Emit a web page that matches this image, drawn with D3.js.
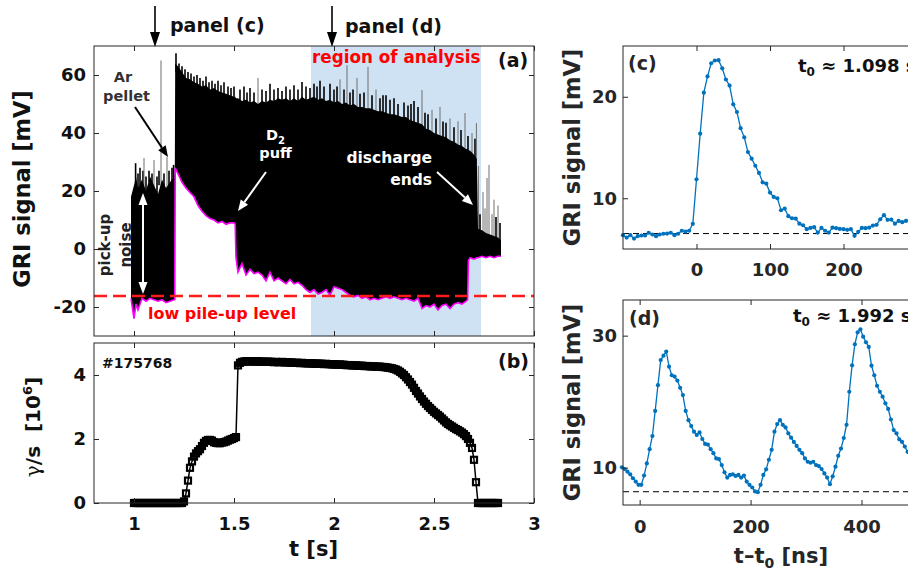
<!DOCTYPE html>
<html>
<head>
<meta charset="utf-8">
<script src="https://cdn.jsdelivr.net/npm/d3@7"></script>
<style>
  body { margin: 0; background: #fff; }
  svg text { font-family: "DejaVu Sans", sans-serif; font-weight: bold; }
</style>
</head>
<body>
<div id="chart"></div>
<script>
// ---- panel (a): GRI signal envelope [mV] vs t [s]
var tA = [0.985,1.0,1.01,1.02,1.04,1.06,1.08,1.10,1.12,1.14,1.16,1.18,1.20,1.204,
  1.206,1.22,1.24,1.26,1.28,1.30,1.32,1.34,1.36,1.38,1.40,1.42,1.44,1.46,1.48,1.50,1.506,
  1.51,1.52,1.54,1.56,1.58,1.60,1.62,1.64,1.66,1.68,1.70,1.72,1.74,1.76,1.78,1.80,1.82,1.84,1.86,1.88,
  1.90,1.92,1.94,1.96,1.98,2.00,2.02,2.04,2.06,2.08,2.10,2.12,2.14,2.16,2.18,2.20,2.22,2.24,2.26,2.28,
  2.30,2.32,2.34,2.36,2.38,2.40,2.42,2.44,2.46,2.48,2.50,2.52,2.54,2.56,2.58,2.60,2.62,2.64,2.66,2.668,
  2.672,2.68,2.70,2.714,2.72,2.74,2.76,2.78,2.80,2.82,2.835];
var upA = [18,22,25,21,24,20,25,22,19,24,21,23,25,26,
  64,63,61,59,58.5,57.5,57,56,56.5,55,55.5,54.5,54,53.5,53,52.5,52.5,
  52,52,51,51.5,50.5,51,50,51,50.5,51.5,51,52,51.5,52,51,52,51,52.5,51.5,52,
  52.5,51.5,52,51,51.5,50.5,51,50,50.5,49.5,50,49,49,48.5,48.5,48,47.5,47.5,47,46.5,
  46.5,46,45.5,45.5,44.5,44,43.5,43,41.5,41,40,39.5,39,38.5,37.5,37,36,35.5,34.5,34.5,
  34,34,32.5,31,7,6.5,5.5,5,4.5,4,3];
var loA = [-17,-24,-19,-21,-17,-18,-17,-17.5,-18,-17.5,-18.5,-18,-17.5,-17.5,
  28,26,23,21,19.5,18,15,13,11.5,10.5,10,9,9.5,8.5,9,9,8.5,
  -3,-8,-5,-9,-7,-8.5,-8,-9,-11,-8,-11,-10,-11,-12,-10.5,-12,-11.5,-12.5,-14,-15,
  -14,-15.5,-15,-14,-16,-13,-13.5,-14,-15,-16,-16.5,-16,-17,-16.5,-17.5,-17,-17.5,-17,-16.5,-17,
  -16.5,-17,-17.5,-17,-17.5,-18,-17,-20.5,-19.5,-20,-19,-21,-19.5,-19,-20.5,-19,-18.5,-19,-18,-17.5,
  -4,-3,-3.5,-3,-3,-2.5,-3,-2.5,-3,-2.5,-2.5];
// spikes sticking out above the envelope (t [s], peak [mV])
var tSpk = [1.008,1.02,1.03,1.045,1.05,1.06,1.075,1.09,1.1,1.115,1.125,1.135,1.15,1.165,1.175,1.19,1.198,
  1.21,1.225,1.24,1.255,1.27,1.285,1.3,1.315,1.33,1.345,1.36,1.375,1.39,1.405,1.42,1.435,1.45,1.47,1.485,1.5,
  1.53,1.55,1.565,1.58,1.6,1.62,1.64,1.66,1.68,1.70,1.72,1.74,1.76,1.78,1.80,1.82,1.84,1.86,1.88,1.90,1.915,1.93,1.95,1.98,
  2.0,2.015,2.03,2.05,2.065,2.08,2.095,2.115,2.13,2.15,2.17,2.19,2.21,2.23,2.245,2.26,2.28,2.3,2.32,2.35,2.37,2.385,2.4,2.42,2.44,
  2.455,2.47,2.49,2.51,2.53,2.545,2.56,2.58,2.6,2.62,2.635,2.655,2.67,2.69,2.705,2.712,
  2.722,2.73,2.745,2.755,2.765,2.775,2.79,2.8,2.81,2.82,2.83];
var vSpk = [29.6,26,28,27,31.4,25,27,26,30.7,25,27,65,26,31.7,27,28,29,
  67.5,64,63,62,61,60.5,59.5,60,59,58,59.5,57.5,58,57,58,56.5,57.5,56,55.5,56,
  55,56,54,55.5,54,59,55,54.5,57,55,55.5,54.5,56,55,56.5,55,57.6,56,55.5,57,56,58,56,57,
  55,56,58.5,55,63.4,54,55,59,53.5,54,62.8,53,55,52,53,53,51.5,52,50,50.5,49.5,50,51,49,54.8,
  47,46.5,48,45,49,44,43.5,45,42,44,41,46.9,39,40,38,43.4,
  28.6,12,19.7,14,24.5,29,12,17,11,15,9];
var lowPileUp = -16.2;
var analysisWin = [1.885, 2.735];

// ---- panel (b): gamma/s [10^6], sampled every 10 ms from t = 1.00 s
var tB0 = 1.0, dtB = 0.01;
var vB = [0,0,0,0,0,0,0,0,0,0,0,0,0,0,0,0,0,0,0,0,0,0,0,0,0,
  0.05,0.3,0.7,1.1,1.3,1.45,1.55,1.62,1.68,1.78,1.88,1.94,1.97,1.97,1.95,
  1.9,1.88,1.87,1.87,1.89,1.9,1.92,1.95,1.98,2.0,2.03,2.06,
  4.3,4.38,4.41,
  4.42,4.43,4.43,4.42,4.43,4.42,4.42,4.43,4.42,4.42,4.41,
  4.41,4.42,4.41,4.41,4.40,4.41,4.40,4.40,4.41,4.40,4.39,4.40,4.39,4.39,4.38,
  4.38,4.38,4.37,4.38,4.37,4.37,4.36,4.37,4.36,4.36,4.35,4.36,4.35,4.35,4.34,4.35,4.34,4.34,4.33,4.33,
  4.33,4.32,4.33,4.32,4.32,4.31,4.31,4.31,4.30,4.30,4.30,4.29,4.29,4.29,4.28,4.28,4.28,4.27,4.27,4.27,
  4.26,4.26,4.26,4.25,4.25,4.24,4.23,4.22,4.21,4.19,
  4.17,4.14,4.1,4.05,4.0,3.93,3.86,3.78,3.7,3.6,3.5,3.42,3.33,3.25,3.17,3.1,3.03,2.97,2.91,2.85,
  2.8,2.75,2.7,2.64,2.58,2.52,2.47,2.43,2.39,2.35,2.31,2.28,2.24,2.2,2.15,2.09,2.0,1.88,1.72,1.35,
  0.65,0,0,0,0,0,0,0,0,0,0,0];

// ---- panel (c): GRI pulse near t0 = 1.098 s, 5 ns sampling from -100 ns
var tC0 = -100, dtC = 5;
var vC = [6.36,6.13,6.36,6.03,6.26,6.33,6.33,6.6,6.43,6.26,
  6.43,6.5,6.52,6.6,6.36,6.5,6.8,6.72,6.8,7.48,
  11.87,16.36,20.4,22.0,23.3,23.57,23.6,22.8,21.7,21.1,
  19.25,18.5,16.9,16.0,14.55,13.9,13.2,12.5,11.57,11.44,
  10.56,10.13,10.0,8.82,8.98,8.23,8.03,8.0,7.5,7.34,
  6.95,7.08,7.15,6.62,7.08,6.8,6.62,7.11,7.05,6.98,
  6.95,6.89,6.95,6.3,6.69,7.08,7.05,7.11,7.31,7.38,
  7.93,8.33,7.87,7.9,7.5,7.77,7.64,7.77,7.84];
var baseC = 6.52;

// ---- panel (d): GRI pulses near t0 = 1.992 s, 5 ns sampling from -32 ns
var tD0 = -32, dtD = 5;
var vD = [10.05,9.8,9.4,9.0,8.4,7.9,7.4,7.4,8.8,10.65,
  12.8,14.8,18.6,22.5,26.3,26.97,27.6,25.3,24.0,23.8,
  23.2,22.1,21.0,18.6,17.2,16.3,15.45,14.95,15.35,14.35,
  13.6,13.5,12.8,12.2,11.4,11.3,10.4,9.3,8.5,8.9,
  9.0,8.74,8.9,8.5,8.8,7.9,7.4,7.0,6.4,6.3,
  7.4,8.9,9.75,11.2,12.7,15.45,16.6,17.2,16.5,16.1,
  15.2,14.55,13.9,13.3,12.7,12.2,11.4,10.9,10.75,10.9,
  10.4,10.25,9.8,9.14,8.5,7.5,8.7,10.15,11.8,12.9,
  14.5,16.5,21.5,25.5,28.7,30.5,30.96,29.85,29.0,28.3,
  25.45,24.0,22.4,21.5,20.75,19.75,18.9,17.3,15.7,15.2,
  14.3,13.9,13.2,12.4];
var baseD = 6.36;

// tick labels
var tTicks = [1, 1.5, 2, 2.5, 3];
var aTicks = [-20, 0, 20, 40, 60];
var bTicks = [0, 2, 4];
var cxTicks = [0, 100, 200], cyTicks = [10, 20];
var dxTicks = [0, 200, 400], dyTicks = [10, 30];

var svg = d3.select('#chart').append('svg')
  .attr('width', 908)
  .attr('height', 574);

var xT = d3.scaleLinear().domain([0.8, 3]).range([94, 534]);
var yA = d3.scaleLinear().domain([-30, 70]).range([336, 46]);
var yB = d3.scaleLinear().domain([0, 5]).range([503, 343]);
var xC = d3.scaleLinear().domain([-100, 300]).range([623, 917]);
var yC = d3.scaleLinear().domain([5, 25]).range([249, 46]);
var xD = d3.scaleLinear().domain([-30, 500]).range([623, 917]);
var yD = d3.scaleLinear().domain([4.35, 35.4]).range([505, 300]);

// boxed axes with inward ticks on all four sides
function frame(xs, ys, o){
  var xr = xs.range(), yr = ys.range();
  var fmt = function(d){ return String(d); };
  var g = svg.append('g');
  g.append('g').attr('transform', 'translate(0,' + yr[0] + ')')
    .call(d3.axisBottom(xs).tickValues(o.xt).tickSize(-5).tickPadding(o.xpad)
      .tickFormat(o.xlab ? fmt : ''));
  g.append('g').attr('transform', 'translate(0,' + yr[1] + ')')
    .call(d3.axisTop(xs).tickValues(o.xt).tickSize(-5).tickFormat(''));
  g.append('g').attr('transform', 'translate(' + xr[0] + ',0)')
    .call(d3.axisLeft(ys).tickValues(o.yt).tickSize(-5).tickPadding(o.ypad).tickFormat(fmt));
  g.append('g').attr('transform', 'translate(' + xr[1] + ',0)')
    .call(d3.axisRight(ys).tickValues(o.yt).tickSize(-5).tickFormat(''));
  g.selectAll('.domain').remove();
  g.selectAll('.tick line').attr('stroke', '#262626');
  g.selectAll('g').attr('font-family', null).attr('font-size', 18);
  g.selectAll('.tick text').attr('fill', o.col).style('font-size', '18px');
  g.append('rect')
    .attr('x', xr[0]).attr('y', yr[1])
    .attr('width', xr[1] - xr[0]).attr('height', yr[0] - yr[1])
    .attr('fill', 'none').attr('stroke', '#262626').attr('stroke-width', 1);
}

function arrow(x1, y1, x2, y2, col, w, hl, hw){
  var a = Math.atan2(y2 - y1, x2 - x1), c = Math.cos(a), s = Math.sin(a);
  var bx = x2 - hl * c, by = y2 - hl * s;
  svg.append('line').attr('x1', x1).attr('y1', y1).attr('x2', bx).attr('y2', by)
    .attr('stroke', col).attr('stroke-width', w);
  svg.append('polygon')
    .attr('points', [[x2, y2], [bx - hw * s, by + hw * c], [bx + hw * s, by - hw * c]].join(' '))
    .attr('fill', col);
}

function label(x, y, str, size, col, anchor){
  return svg.append('text').attr('x', x).attr('y', y).text(str)
    .attr('font-size', size).attr('fill', col || '#111')
    .attr('text-anchor', anchor || 'start');
}

function vlabel(x, y, size, col){
  return svg.append('text').attr('transform', 'translate(' + x + ',' + y + ') rotate(-90)')
    .attr('text-anchor', 'middle').attr('font-size', size).attr('fill', col || '#111');
}

// ===== panel (a)
svg.append('rect')
  .attr('x', xT(analysisWin[0])).attr('y', yA(70))
  .attr('width', xT(analysisWin[1]) - xT(analysisWin[0]))
  .attr('height', yA(-30) - yA(70))
  .attr('fill', '#cfe2f3');

// spikes start inside the black envelope; tall thin ones render grey
var bisT = d3.bisector(function(d){ return d; }).left;
function baseAt(t){ return upA[Math.min(bisT(tA, t), tA.length - 1)]; }
svg.selectAll('line.spk').data(tSpk).enter().append('line')
  .attr('class', 'spk')
  .attr('x1', function(d){ return xT(d); }).attr('x2', function(d){ return xT(d); })
  .attr('y1', function(d){ return yA(baseAt(d) - 2); })
  .attr('y2', function(d, i){ return yA(vSpk[i]); })
  .attr('stroke', function(d, i){ return vSpk[i] - baseAt(d) > 7 ? '#6e6e6e' : '#000'; })
  .attr('stroke-width', function(d, i){ return vSpk[i] - baseAt(d) > 7 ? 1 : 1.6; });

var envA = tA.map(function(t, i){ return {t: t, hi: upA[i], lo: loA[i]}; });
svg.append('path').datum(envA)
  .attr('d', d3.area()
    .x(function(d){ return xT(d.t); })
    .y0(function(d){ return yA(d.lo); })
    .y1(function(d){ return yA(d.hi); }))
  .attr('fill', '#000');

svg.append('path').datum(envA)
  .attr('d', d3.line()
    .x(function(d){ return xT(d.t); })
    .y(function(d){ return yA(d.lo); }))
  .attr('fill', 'none').attr('stroke', '#ff00ff').attr('stroke-width', 1.6);

svg.append('line')
  .attr('x1', xT(0.8)).attr('x2', xT(3))
  .attr('y1', yA(lowPileUp)).attr('y2', yA(lowPileUp))
  .attr('stroke', '#ff1a1a').attr('stroke-width', 2.5).attr('stroke-dasharray', '13,6');

frame(xT, yA, {xt: tTicks, yt: aTicks, xlab: false, xpad: 14, ypad: 8, col: '#111'});

// annotations (a)
label(312, 63, 'region of analysis', 16.8, '#ff0000');
label(498, 67, '(a)', 19);
label(123, 82, 'Ar', 14.5, '#333', 'middle');
label(126.5, 101, 'pellet', 14.5, '#333', 'middle');
arrow(135, 107, 168, 157, '#000', 2, 11, 4.5);

var d2 = label(275.5, 140, 'D', 14.5, '#fff', 'middle');
d2.append('tspan').attr('font-size', 10).attr('dy', 4).text('2');
label(275.5, 158, 'puff', 14.5, '#fff', 'middle');
arrow(266, 172, 238, 211, '#fff', 2, 11, 4.5);

label(432, 163, 'discharge', 15.5, '#fff', 'end');
label(432, 185, 'ends', 15.5, '#fff', 'end');
arrow(437, 172, 473, 205, '#fff', 2, 11, 4.5);

vlabel(110, 245, 15, '#222').text('pick-up');
vlabel(131, 245, 15, '#222').text('noise');
arrow(143, 245, 143, 193, '#fff', 2, 12, 4.5);
arrow(143, 245, 143, 294, '#fff', 2, 12, 4.5);

label(148, 319, 'low pile-up level', 16, '#ff0000');

label(170, 32, 'panel (c)', 19);
label(345, 33, 'panel (d)', 19);
arrow(155, 6, 155, 47, '#000', 1.6, 15, 5);
arrow(332, 6, 332, 47, '#000', 1.6, 15, 5);

vlabel(30, 189, 22.5).text('GRI signal [mV]');

// ===== panel (b)
var ptsB = vB.map(function(v, i){ return {t: tB0 + i * dtB, v: v}; });
svg.append('path').datum(ptsB)
  .attr('d', d3.line()
    .x(function(d){ return xT(d.t); })
    .y(function(d){ return yB(d.v); }))
  .attr('fill', 'none').attr('stroke', '#000').attr('stroke-width', 1.5);
svg.selectAll('rect.mk').data(ptsB).enter().append('rect')
  .attr('class', 'mk')
  .attr('x', function(d){ return xT(d.t) - 3; })
  .attr('y', function(d){ return yB(d.v) - 3; })
  .attr('width', 6).attr('height', 6)
  .attr('fill', 'none').attr('stroke', '#000').attr('stroke-width', 2.2);

frame(xT, yB, {xt: tTicks, yt: bTicks, xlab: true, xpad: 14, ypad: 8, col: '#111'});

label(102, 368, '#175768', 14);
label(498, 368, '(b)', 19);
var gl = vlabel(39.5, 427, 20);
gl.append('tspan').attr('font-family', 'DejaVu Serif').attr('font-weight', 'normal').text('\u03b3');
gl.append('tspan').text('/s\u00a0 [10');
gl.append('tspan').attr('font-size', 13).attr('dy', -8).text('6');
gl.append('tspan').attr('dy', 8).text(']');
label(313.5, 556, 't [s]', 21, '#111', 'middle');

// ===== panel (c)
svg.append('line')
  .attr('x1', xC(-100)).attr('x2', xC(300))
  .attr('y1', yC(baseC)).attr('y2', yC(baseC))
  .attr('stroke', '#000').attr('stroke-width', 1).attr('stroke-dasharray', '6,4');
var ptsC = vC.map(function(v, i){ return {t: tC0 + i * dtC, v: v}; });
svg.append('path').datum(ptsC)
  .attr('d', d3.line()
    .x(function(d){ return xC(d.t); })
    .y(function(d){ return yC(d.v); }))
  .attr('fill', 'none').attr('stroke', '#0072bd').attr('stroke-width', 1.3);
svg.selectAll('circle.mc').data(ptsC).enter().append('circle')
  .attr('class', 'mc')
  .attr('cx', function(d){ return xC(d.t); })
  .attr('cy', function(d){ return yC(d.v); })
  .attr('r', 2.1).attr('fill', '#0072bd');

frame(xC, yC, {xt: cxTicks, yt: cyTicks, xlab: true, xpad: 14, ypad: 6, col: '#262626'});

label(628, 70, '(c)', 19, '#262626');
var tc = label(798, 72, 't', 18, '#111');
tc.append('tspan').attr('font-size', 12).attr('dy', 4).text('0');
tc.append('tspan').attr('dy', -4).text(' \u2248 1.098 s');
vlabel(580, 147.5, 22.5, '#262626').text('GRI signal [mV]');

// ===== panel (d)
svg.append('line')
  .attr('x1', xD(-30)).attr('x2', xD(500))
  .attr('y1', yD(baseD)).attr('y2', yD(baseD))
  .attr('stroke', '#000').attr('stroke-width', 1).attr('stroke-dasharray', '6,4');
var ptsD = vD.map(function(v, i){ return {t: tD0 + i * dtD, v: v}; });
svg.append('path').datum(ptsD)
  .attr('d', d3.line()
    .x(function(d){ return xD(d.t); })
    .y(function(d){ return yD(d.v); }))
  .attr('fill', 'none').attr('stroke', '#0072bd').attr('stroke-width', 1.3);
svg.selectAll('circle.md').data(ptsD).enter().append('circle')
  .attr('class', 'md')
  .attr('cx', function(d){ return xD(d.t); })
  .attr('cy', function(d){ return yD(d.v); })
  .attr('r', 2.1).attr('fill', '#0072bd');

frame(xD, yD, {xt: dxTicks, yt: dyTicks, xlab: true, xpad: 15, ypad: 6, col: '#262626'});

label(629, 325, '(d)', 19, '#262626');
var td = label(793, 322, 't', 18, '#111');
td.append('tspan').attr('font-size', 12).attr('dy', 4).text('0');
td.append('tspan').attr('dy', -4).text(' \u2248 1.992 s');
vlabel(580, 402.5, 22.5, '#262626').text('GRI signal [mV]');

var xl = label(781, 563, 't\u2013t', 21, '#262626', 'middle');
xl.append('tspan').attr('font-size', 14).attr('dy', 5).text('0');
xl.append('tspan').attr('dy', -5).text(' [ns]');
</script>
</body>
</html>
